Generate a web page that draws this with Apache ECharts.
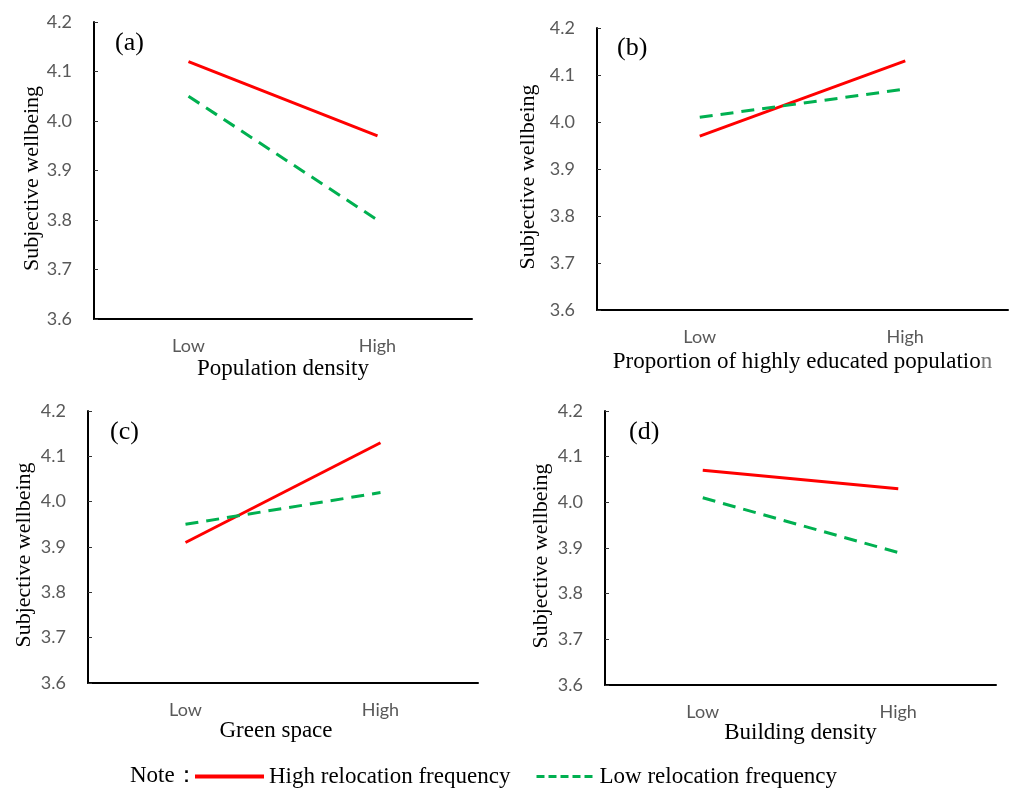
<!DOCTYPE html>
<html>
<head>
<meta charset="utf-8">
<title>Subjective wellbeing</title>
<script src="https://cdn.jsdelivr.net/npm/echarts@6/dist/echarts.min.js"></script>
<style>
    html, body { margin: 0; padding: 0; background: #fff; }
    #main { width: 1014px; height: 790px; }
</style>
</head>
<body>
<div id="main"></div>
<script>
// 数据
var categories = ['Low', 'High'];
var yTicks = [3.6, 3.7, 3.8, 3.9, 4.0, 4.1, 4.2];
var panelLabels = ['(a)', '(b)', '(c)', '(d)'];
var xNames = ['Population density', 'Proportion of highly educated populatio{g|n}', 'Green space', 'Building density'];
var highA = [4.12, 3.97];
var lowA = [4.05, 3.80];
var highB = [3.97, 4.13];
var lowB = [4.01, 4.07];
var highC = [3.91, 4.13];
var lowC = [3.95, 4.02];
var highD = [4.07, 4.03];
var lowD = [4.01, 3.89];

var highName = 'High relocation frequency';
var lowName = 'Low relocation frequency';
var RED = '#ff0000';
var GREEN = '#00b050';
var GRAY = '#595959';
var SERIF = '"Liberation Serif", "Times New Roman", serif';
var SANS = 'Lato, Carlito, Calibri, sans-serif';

// 每个小图的位置
var grids = [
    { left: 94, top: 22, width: 378, height: 297 },
    { left: 597, top: 28, width: 411, height: 282 },
    { left: 88, top: 411, width: 390, height: 272 },
    { left: 605, top: 411, width: 391, height: 274 }
];
var yNameGaps = [50, 58, 53, 53];
var xNameGaps = [38, 40, 26, 29];
var labelPos = [[115, 44], [617, 49], [110, 433], [629, 433]];
var highData = [highA, highB, highC, highD];
var lowData = [lowA, lowB, lowC, lowD];

var xAxes = [], yAxes = [], series = [], graphics = [];
for (var i = 0; i < 4; i++) {
    xAxes.push({
        type: 'category',
        gridIndex: i,
        data: categories,
        boundaryGap: true,
        axisLine: { lineStyle: { color: '#000', width: 2 } },
        axisTick: { inside: true, length: 5, lineStyle: { color: '#000', width: 2 } },
        axisLabel: { color: GRAY, fontFamily: SANS, fontSize: 18, margin: 18 },
        name: xNames[i],
        nameLocation: 'middle',
        nameGap: xNameGaps[i],
        nameTextStyle: {
            color: '#000', fontFamily: SERIF, fontSize: 23,
            padding: i == 2 ? [0, 14, 0, 0] : 0,
            rich: { g: { color: '#777', fontFamily: SERIF, fontSize: 23 } }
        }
    });
    yAxes.push({
        type: 'value',
        gridIndex: i,
        min: yTicks[0],
        max: yTicks[yTicks.length - 1],
        interval: 0.1,
        splitLine: { show: false },
        axisLine: { show: true, lineStyle: { color: '#000', width: 2 } },
        axisTick: { show: true, inside: true, length: 4, lineStyle: { color: '#333', width: 1 } },
        axisLabel: {
            color: GRAY, fontFamily: SANS, fontSize: 18, margin: 22,
            formatter: function (v) { return v.toFixed(1); }
        },
        name: 'Subjective wellbeing',
        nameLocation: 'middle',
        nameGap: yNameGaps[i],
        nameTextStyle: { color: '#000', fontFamily: SERIF, fontSize: 22, padding: [0, 16, 0, 0] }
    });
    series.push({
        name: highName, type: 'line', xAxisIndex: i, yAxisIndex: i,
        data: highData[i], symbol: 'none',
        lineStyle: { color: RED, width: 3 }, itemStyle: { color: RED }
    });
    series.push({
        name: lowName, type: 'line', xAxisIndex: i, yAxisIndex: i,
        data: lowData[i], symbol: 'none',
        lineStyle: { color: GREEN, width: 3, type: [13, 8] }, itemStyle: { color: GREEN }
    });
    graphics.push({
        type: 'text', left: labelPos[i][0], top: labelPos[i][1] - 14,
        style: { text: panelLabels[i], font: '26px ' + SERIF, fill: '#000' }
    });
}
graphics.push({
    type: 'text', left: 130, top: 764,
    style: { text: 'Note：', font: '23px ' + SERIF, fill: '#000' }
});

// 图例：两条线长度不同，分成两个
function makeLegend(name, left, width, lineStyle) {
    return {
        left: left,
        top: 765,
        padding: 0,
        itemWidth: width,
        itemHeight: 14,
        textStyle: { color: '#000', fontFamily: SERIF, fontSize: 23 },
        data: [{ name: name, icon: 'inherit', itemStyle: { opacity: 0 }, lineStyle: lineStyle }]
    };
}

var myChart = echarts.init(document.getElementById('main'));
var option = {
    animation: false,
    backgroundColor: '#fff',
    grid: grids,
    xAxis: xAxes,
    yAxis: yAxes,
    legend: [
        makeLegend(highName, 193, 69, { color: RED, width: 4 }),
        makeLegend(lowName, 535, 58, { color: GREEN, width: 3, type: [8, 4] })
    ],
    graphic: graphics,
    series: series
};
myChart.setOption(option);
</script>
</body>
</html>
